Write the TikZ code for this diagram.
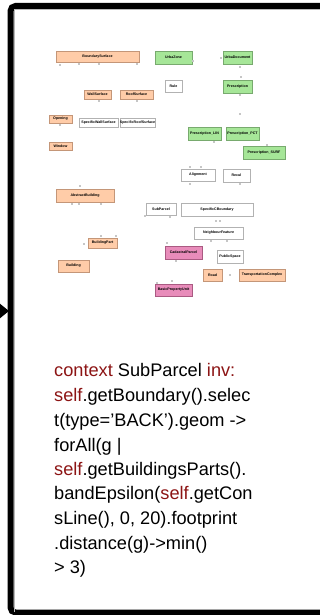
\documentclass[tikz,border=0pt]{standalone}
\usepackage{fontspec}
\setmainfont{Liberation Sans}
\setsansfont{Liberation Sans}
\usetikzlibrary{arrows.meta}
\definecolor{peach}{RGB}{255,204,168}
\definecolor{peachline}{RGB}{196,150,120}
\definecolor{leaf}{RGB}{166,230,152}
\definecolor{leafline}{RGB}{120,170,110}
\definecolor{rose}{RGB}{232,140,186}
\definecolor{roseline}{RGB}{170,90,130}
\definecolor{kwred}{RGB}{140,20,20}
\newcommand{\kw}[1]{\textcolor{kwred}{#1}}

\begin{document}
\begin{tikzpicture}[x=1pt,y=-1pt,>=Latex,
  cls/.style={draw=gray!60,fill=white,line width=0.5pt,inner sep=0pt,
    font=\fontsize{3.6}{4}\selectfont\bfseries},
  wh/.style args={#1x#2}{minimum width=#1,minimum height=#2},
  build/.style={cls,fill=peach,draw=peachline},
  urba/.style={cls,fill=leaf,draw=leafline},
  cadas/.style={cls,fill=rose,draw=roseline},
  ocl/.style={anchor=base west,inner sep=0pt,font=\fontsize{18.2}{22}\selectfont},
  mult/.style={fill=gray!45}]
  \useasboundingbox (0,0) rectangle (320,615);
  % frame
  \draw[line width=6pt,rounded corners=5pt] (10.5,6) rectangle (345,612.5);
  \draw[gray!55,line width=0.8pt] (14,612) -- (14,9.5) -- (320,9.5);
  % incoming arrow from the left
  \coordinate (inlet) at (-12,311);
  \coordinate (frameleft) at (9,311);
  \draw[line width=2pt,-{Triangle[length=9pt,width=14pt]}] (inlet) -- (frameleft);

  % building classes
  \node[build,wh=83x11] (bsurf) at (97.5,56.5) {BoundarySurface};
  \node[build,wh=27x9] (wall) at (97.5,94.5) {WallSurface};
  \node[build,wh=33x9] (roof) at (136.5,94.5) {RoofSurface};
  \node[build,wh=23x8] (opening) at (60.5,119) {Opening};
  \node[cls,wh=39x9] (swall) at (98.5,122.5) {SpecificWallSurface};
  \node[cls,wh=35x9] (sroof) at (137.5,122.5) {SpecificRoofSurface};
  \node[build,wh=23x8] (window) at (60.5,146) {Window};
  \node[build,wh=58x13] (abuild) at (85,195.5) {AbstractBuilding};
  \node[build,wh=29x10] (bpart) at (102.5,243) {BuildingPart};
  \node[build,wh=31x12] (building) at (73.5,266) {Building};

  % urban planning classes
  \node[urba,wh=37x13] (uzone) at (173.5,57.5) {UrbaZone};
  \node[urba,wh=29x13] (udoc) at (237.5,57.5) {UrbaDocument};
  \node[cls,wh=17x12] (rule) at (173.5,86) {Rule};
  \node[urba,wh=29x13] (presc) at (237.5,86.5) {Prescription};
  \node[urba,wh=33x13] (plin) at (204.5,133.5) {Prescription\_LIN};
  \node[urba,wh=33x13] (ppct) at (242.5,133.5) {Prescription\_PCT};
  \node[urba,wh=42x13] (psurf) at (264,152.5) {Prescription\_SURF};
  \node[cls,wh=34x12] (align) at (198,175) {Alignment};
  \node[cls,wh=27x13] (recul) at (236.5,175.5) {Recul};

  % cadastre classes
  \node[cls,wh=30x12] (subp) at (161,209) {SubParcel};
  \node[cls,wh=72x13] (scbound) at (217,209.5) {SpecificCBoundary};
  \node[cls,wh=49x12] (neigh) at (218.5,233) {NeighbourFeature};
  \node[cadas,wh=37x13] (cparcel) at (183.5,252.5) {CadastralParcel};
  \node[cls,wh=26x13] (pspace) at (230,256.5) {PublicSpace};
  \node[build,wh=19x12] (road) at (212.5,275) {Road};
  \node[build,wh=46x12] (tcomplex) at (262,275) {TransportationComplex};
  \node[cadas,wh=37x12] (bpu) at (173.5,290) {BasicPropertyUnit};

  % faint association ends
  \foreach \p in {(60,65),(79,64),(99,64),(137,64),(193,61),(221,58),(240,67),
      (241,77),(240,95),(240,114),(99,101),(137,101),(60,125),(80,186),
      (72,204),(79,204),(101,204),(214,142),(267,145),(190,167),(201,167),
      (190,184),(240,184),(145,216),(170,217),(216,221),(220,221),(211,241),
      (227,241),(101,236),(116,236),(84,244),(167,243),(176,261),(157,283),
      (172,281),(230,275)}
    \fill[mult] \p ++(-0.8,-0.8) rectangle ++(1.6,1.6);

  % OCL constraint
  \node[ocl] (l1) at (54,376) {\kw{context} SubParcel \kw{inv:}};
  \node[ocl] (l2) at (54,401) {\kw{self}.getBoundary().selec};
  \node[ocl] (l3) at (54,426) {t(type=’BACK’).geom ->};
  \node[ocl] (l4) at (54,451) {forAll(g |};
  \node[ocl] (l5) at (54,475) {\kw{self}.getBuildingsParts().};
  \node[ocl] (l6) at (54,499) {bandEpsilon(\kw{self}.getCon};
  \node[ocl] (l7) at (54,524) {sLine(), 0, 20).footprint};
  \node[ocl] (l8) at (54,549) {.distance(g)->min()};
  \node[ocl] (l9) at (54,573) {> 3)};
\end{tikzpicture}
\end{document}
